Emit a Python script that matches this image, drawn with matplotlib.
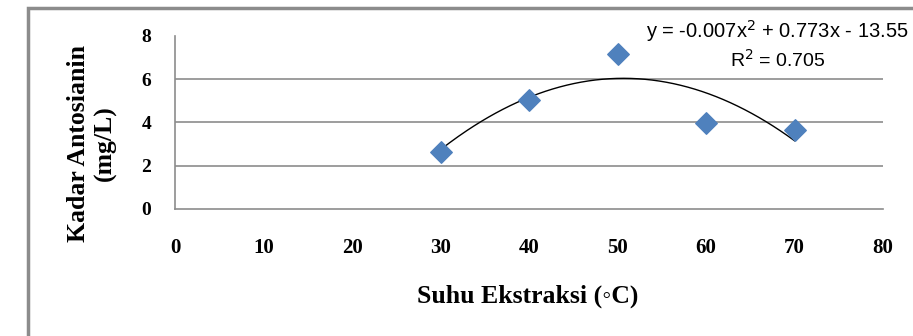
import numpy as np
import matplotlib.pyplot as plt
from matplotlib.patches import Rectangle

# data
suhu = [30, 40, 50, 60, 70]
kadar = [2.62, 5.03, 7.18, 3.98, 3.66]
x_ticks = [0, 10, 20, 30, 40, 50, 60, 70, 80]
y_ticks = [0, 2, 4, 6, 8]
persamaan = "y = -0.007x$^2$ + 0.773x - 13.55"
r_kuadrat = "R$^2$ = 0.705"

fig = plt.figure(figsize=(9.13, 3.36), dpi=100)
ax = fig.add_axes([0.1917, 0.378, 0.7755, 0.515])

# outer chart frame
fig.patches.append(Rectangle((28 / 913, -0.1), 1.2, 1 - 8 / 336 + 0.1,
                             transform=fig.transFigure, fill=False,
                             edgecolor="#8c8c8c", linewidth=2.5))

# polynomial trendline (order 2)
koef = np.polyfit(suhu, kadar, 2)
xs = np.linspace(min(suhu), max(suhu), 200)
ax.plot(xs, np.polyval(koef, xs), color="black", linewidth=1.0, zorder=2)

ax.scatter(suhu, kadar, marker="D", s=120, color="#4F81BD", zorder=3)

ax.set_xlim(0, 80)
ax.set_ylim(0, 8)
ax.set_xticks(x_ticks)
ax.set_yticks(y_ticks)
ax.set_xticklabels([str(t) for t in x_ticks], fontfamily="Liberation Serif",
                   fontweight="bold", fontsize=15)
ax.set_yticklabels([str(t) for t in y_ticks], fontfamily="Liberation Serif",
                   fontweight="bold", fontsize=14)
ax.tick_params(axis="y", length=0, pad=17)
ax.tick_params(axis="x", length=0, pad=21)

for v in y_ticks[1:-1]:
    ax.axhline(v, color="#8c8c8c", linewidth=1.2, zorder=1)
for s in ["top", "right"]:
    ax.spines[s].set_visible(False)
ax.spines["left"].set_color("#8c8c8c")
ax.spines["bottom"].set_color("#8c8c8c")
ax.spines["left"].set_linewidth(1.2)
ax.spines["bottom"].set_linewidth(1.2)

fig.text(0.578, 0.119, "Suhu Ekstraksi (◦C)", ha="center", va="center",
         fontfamily=["Liberation Serif", "DejaVu Serif"], fontweight="bold",
         fontsize=18.5)
fig.text(92 / 913, 0.574, "Kadar Antosianin\n(mg/L)", ha="center", va="center",
         rotation=90, fontfamily="Liberation Serif", fontweight="bold",
         fontsize=18.5, linespacing=1.15)

fig.text(777 / 913, 1 - 31 / 336, persamaan, ha="center", va="center",
         fontfamily="Liberation Sans", fontsize=14.5)
fig.text(778 / 913, 1 - 60 / 336, r_kuadrat, ha="center", va="center",
         fontfamily="Liberation Sans", fontsize=14)

fig.savefig("out.png", dpi=100)
